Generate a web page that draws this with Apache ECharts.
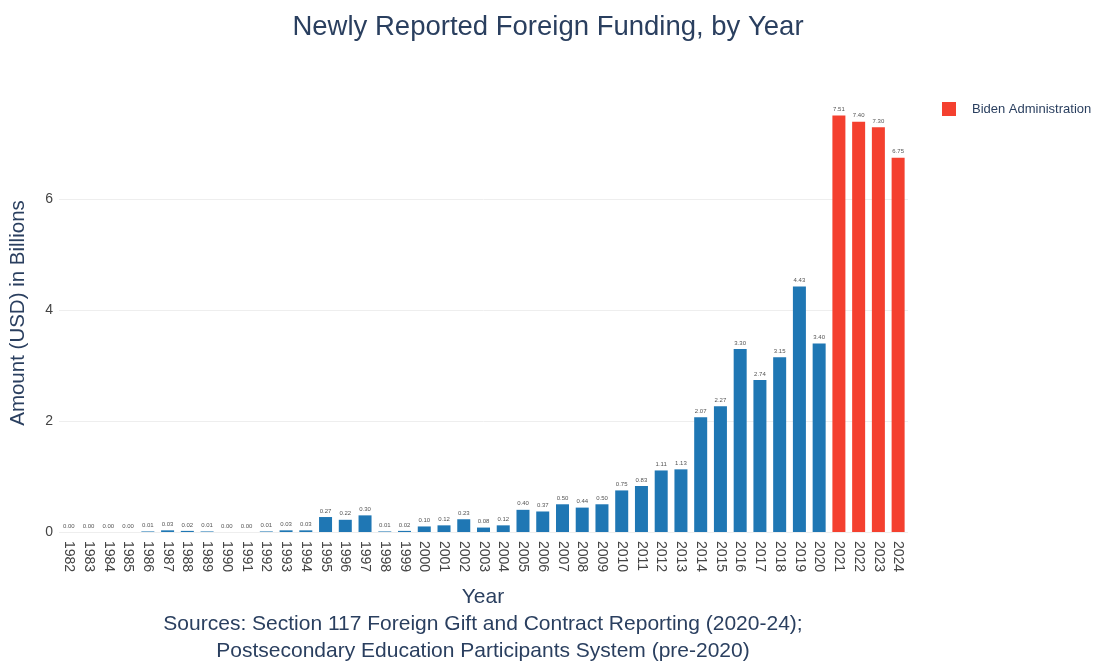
<!DOCTYPE html>
<html><head><meta charset="utf-8">
<script src="https://cdn.jsdelivr.net/npm/echarts@6/dist/echarts.min.js"></script>
<style>html,body{margin:0;padding:0;background:#fff}#c{width:1098px;height:662px}</style>
</head><body><div id="c"></div>
<script>
const years = ['1982','1983','1984','1985','1986','1987','1988','1989','1990','1991','1992','1993','1994','1995','1996','1997','1998','1999','2000','2001','2002','2003','2004','2005','2006','2007','2008','2009','2010','2011','2012','2013','2014','2015','2016','2017','2018','2019','2020','2021','2022','2023','2024'];
const preBiden = [0.00,0.00,0.00,0.00,0.01,0.03,0.02,0.01,0.00,0.00,0.01,0.03,0.03,0.27,0.22,0.30,0.01,0.02,0.10,0.12,0.23,0.08,0.12,0.40,0.37,0.50,0.44,0.50,0.75,0.83,1.11,1.13,2.07,2.27,3.30,2.74,3.15,4.43,3.40,null,null,null,null];
const biden = [null,null,null,null,null,null,null,null,null,null,null,null,null,null,null,null,null,null,null,null,null,null,null,null,null,null,null,null,null,null,null,null,null,null,null,null,null,null,null,7.51,7.40,7.30,6.75];
const yTicks = [0,2,4,6];

const chart = echarts.init(document.getElementById('c'), null, {renderer:'canvas'});
const font = '"Liberation Sans", Arial, sans-serif';
const lbl = {show:true, position:'top', fontSize:6, color:'#555', fontFamily:font, distance:3,
  formatter: p => p.value == null ? '' : Number(p.value).toFixed(2)};
chart.setOption({
  animation:false,
  backgroundColor:'#fff',
  title:{text:'Newly Reported Foreign Funding, by Year', left:543, top:8, textAlign:'center',
    textStyle:{fontFamily:font, fontSize:27.5, fontWeight:'normal', color:'#2a3f5f'}},
  legend:{data:['Biden Administration'], left:942, top:102, padding:0, itemWidth:14, itemHeight:14, icon:'rect',
    textStyle:{fontFamily:font, fontSize:13, color:'#2a3f5f', padding:[0,0,0,11]}},
  grid:{left:57, top:94, width:851, height:438, containLabel:false},
  xAxis:{type:'category', data:years,
    axisLine:{show:false}, axisTick:{show:false},
    axisLabel:{rotate:-90, fontFamily:font, fontSize:14, color:'#444', margin:9, interval:0},
    splitLine:{show:false}},
  yAxis:{type:'value', min:0, max:7.9, interval:2,
    axisLabel:{fontFamily:font, fontSize:14, color:'#444', margin:6,
      formatter: v => yTicks.includes(v) ? String(v) : ''},
    splitLine:{lineStyle:{color:['#eeeeee','#eeeeee','#eeeeee','#eeeeee','#ffffff'], width:1}},
    axisLine:{show:false}, axisTick:{show:false},
    name:'Amount (USD) in Billions', nameLocation:'middle', nameGap:30, nameRotate:90,
    nameTextStyle:{fontFamily:font, fontSize:20.5, color:'#2a3f5f'}},
  series:[
    {name:'Pre-2021', type:'bar', data:preBiden, barWidth:13, barGap:'-100%',
      itemStyle:{color:'#1f77b4'}, label:lbl},
    {name:'Biden Administration', type:'bar', data:biden, barWidth:13, barGap:'-100%',
      itemStyle:{color:'#F4402F'}, label:lbl}
  ],
  graphic:[
    {type:'text', x:483, y:597, style:{text:'Year', fill:'#2a3f5f', font:'21px '+font, textAlign:'center', textVerticalAlign:'middle'}},
    {type:'text', x:483, y:624, style:{text:'Sources: Section 117 Foreign Gift and Contract Reporting (2020-24);', fill:'#2a3f5f', font:'21px '+font, textAlign:'center', textVerticalAlign:'middle'}},
    {type:'text', x:483, y:651, style:{text:'Postsecondary Education Participants System (pre-2020)', fill:'#2a3f5f', font:'21px '+font, textAlign:'center', textVerticalAlign:'middle'}}
  ]
});
</script></body></html>
